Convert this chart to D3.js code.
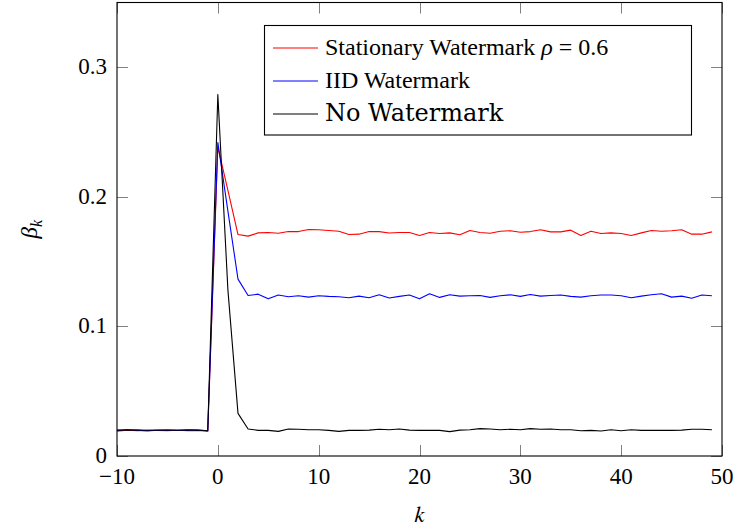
<!DOCTYPE html>
<html>
<head>
<meta charset="utf-8">
<script src="https://cdn.jsdelivr.net/npm/d3@7"></script>
<style>
  html, body { margin: 0; padding: 0; background: #fff; }
  svg { display: block; }
</style>
</head>
<body>
<svg id="chart" width="738" height="531"></svg>
<script>
// ---- data ----
const kValues = d3.range(-10, 50);
const seriesNames = ["Stationary Watermark", "IID Watermark", "No Watermark"];
const stationary = [
  0.0192, 0.0200, 0.0195, 0.0198, 0.0197, 0.0196, 0.0199, 0.0195, 0.0197, 0.0192,
  0.2385, 0.2050, 0.1709, 0.1697, 0.1722, 0.1725, 0.1719, 0.1732, 0.1732, 0.1748,
  0.1746, 0.1740, 0.1735, 0.1709, 0.1712, 0.1732, 0.1732, 0.1721, 0.1725, 0.1725,
  0.1702, 0.1725, 0.1717, 0.1722, 0.1707, 0.1740, 0.1725, 0.1719, 0.1735, 0.1738,
  0.1727, 0.1732, 0.1746, 0.1730, 0.1730, 0.1743, 0.1702, 0.1735, 0.1717, 0.1722,
  0.1717, 0.1702, 0.1722, 0.1740, 0.1735, 0.1738, 0.1746, 0.1712, 0.1712, 0.1730
];
const iid = [
  0.0198, 0.0205, 0.0200, 0.0194, 0.0199, 0.0201, 0.0198, 0.0202, 0.0200, 0.0195,
  0.2420, 0.1890, 0.1365, 0.1239, 0.1249, 0.1213, 0.1242, 0.1229, 0.1237, 0.1226,
  0.1237, 0.1232, 0.1229, 0.1221, 0.1234, 0.1221, 0.1244, 0.1219, 0.1232, 0.1242,
  0.1213, 0.1252, 0.1224, 0.1244, 0.1234, 0.1237, 0.1239, 0.1224, 0.1237, 0.1244,
  0.1232, 0.1247, 0.1234, 0.1239, 0.1242, 0.1232, 0.1226, 0.1237, 0.1242, 0.1242,
  0.1237, 0.1221, 0.1234, 0.1244, 0.1252, 0.1226, 0.1234, 0.1218, 0.1242, 0.1237
];
const noWatermark = [
  0.0200, 0.0199, 0.0201, 0.0199, 0.0200, 0.0201, 0.0199, 0.0200, 0.0200, 0.0195,
  0.2790, 0.1280, 0.0329, 0.0208, 0.0198, 0.0198, 0.0190, 0.0208, 0.0206, 0.0203,
  0.0203, 0.0198, 0.0190, 0.0198, 0.0198, 0.0200, 0.0206, 0.0203, 0.0208, 0.0200,
  0.0198, 0.0198, 0.0198, 0.0188, 0.0200, 0.0203, 0.0211, 0.0208, 0.0203, 0.0206,
  0.0203, 0.0211, 0.0206, 0.0208, 0.0203, 0.0203, 0.0195, 0.0198, 0.0193, 0.0203,
  0.0195, 0.0203, 0.0198, 0.0198, 0.0198, 0.0198, 0.0200, 0.0206, 0.0206, 0.0203
];
const seriesColors = ["#ff0000", "#0000ff", "#000000"];
const xTicks = [-10, 0, 10, 20, 30, 40, 50];
const yTicks = [0, 0.1, 0.2, 0.3];

// ---- layout ----
const svg = d3.select("#chart");
const plot = { left: 117, right: 722, top: 2.5, bottom: 456 };
const x = d3.scaleLinear().domain([-10, 50]).range([plot.left, plot.right]);
const y = d3.scaleLinear().domain([0, 0.35]).range([plot.bottom, plot.top]);
const fontSize = 23;
const tickLen = 11;

function addText(parent, fam) {
  return parent.append("text").attr("font-family", fam).attr("fill", "#000");
}

// ticks (inside, all four sides)
const tickG = svg.append("g").attr("stroke", "#808080").attr("stroke-width", 1);
xTicks.forEach(t => {
  const xp = Math.round(x(t)) + 0.5;
  tickG.append("line").attr("x1", xp).attr("x2", xp).attr("y1", plot.bottom).attr("y2", plot.bottom - tickLen);
  tickG.append("line").attr("x1", xp).attr("x2", xp).attr("y1", plot.top).attr("y2", plot.top + tickLen);
});
yTicks.forEach(t => {
  const yp = Math.round(y(t)) + 0.5;
  tickG.append("line").attr("y1", yp).attr("y2", yp).attr("x1", plot.left).attr("x2", plot.left + tickLen);
  tickG.append("line").attr("y1", yp).attr("y2", yp).attr("x1", plot.right).attr("x2", plot.right - tickLen);
});

// series lines
const series = [stationary, iid, noWatermark];
const line = d3.line().x((d, i) => x(kValues[i])).y(d => y(d));
series.forEach((vals, si) => {
  svg.append("path")
    .datum(vals)
    .attr("d", line)
    .attr("fill", "none")
    .attr("stroke", seriesColors[si])
    .attr("stroke-width", 1.1)
    .attr("stroke-linejoin", "round");
});

// frame
svg.append("rect")
  .attr("x", plot.left).attr("y", plot.top)
  .attr("width", plot.right - plot.left).attr("height", plot.bottom - plot.top)
  .attr("fill", "none").attr("stroke", "#000").attr("stroke-width", 1.1);

// tick labels
const fmtX = d => d < 0 ? "\u2212" + Math.abs(d) : String(d);
const fmtY = d => d === 0 ? "0" : d3.format(".1f")(d);
xTicks.forEach(t => {
  addText(svg, "Times New Roman").attr("x", x(t)).attr("y", 484)
    .attr("text-anchor", "middle").attr("font-size", fontSize).text(fmtX(t));
});
yTicks.forEach(t => {
  addText(svg, "Tinos").attr("x", 107).attr("y", y(t) + 7)
    .attr("text-anchor", "end").attr("font-size", fontSize).text(fmtY(t));
});

// axis labels
addText(svg, "FreeSerif").attr("x", (plot.left + plot.right) / 2).attr("y", 522)
  .attr("text-anchor", "middle").attr("font-size", fontSize).attr("font-style", "italic").text("k");
const yl = addText(svg, "Georgia")
  .attr("transform", `translate(37, ${(plot.top + plot.bottom) / 2}) rotate(-90)`)
  .attr("text-anchor", "middle").attr("font-size", fontSize);
yl.append("tspan").attr("font-style", "italic").text("β");
yl.append("tspan").attr("font-style", "italic").attr("font-size", 16).attr("dy", 5).text("k");

// legend
const legend = svg.append("g");
legend.append("rect").attr("x", 264.5).attr("y", 25.5).attr("width", 427).attr("height", 109.5)
  .attr("fill", "#fff").attr("stroke", "#000").attr("stroke-width", 1.1);
const legendBase = [55, 88, 121];
const legendFams = ["Liberation Serif", "'Liberation Serif'", "DejaVu Serif"];
seriesNames.forEach((name, i) => {
  const by = legendBase[i];
  legend.append("line").attr("x1", 273).attr("x2", 318).attr("y1", by - 7).attr("y2", by - 7)
    .attr("stroke", seriesColors[i]).attr("stroke-width", 1.1);
  const t = addText(legend, legendFams[i]).attr("x", 325).attr("y", by).attr("font-size", 24);
  t.append("tspan").text(name);
  if (i === 0) {
    t.append("tspan").text(" ");
    t.append("tspan").attr("font-style", "italic").text("ρ");
    t.append("tspan").text(" = 0.6");
  }
});
</script>
</body>
</html>
